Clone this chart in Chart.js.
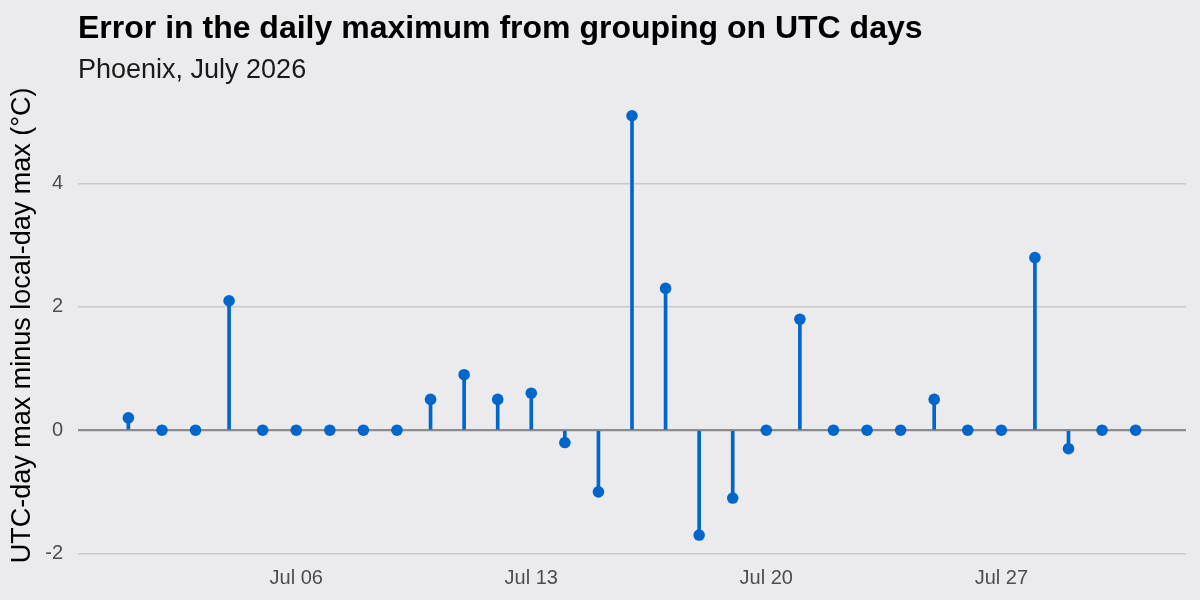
<!DOCTYPE html>
<html>
<head>
<meta charset="utf-8">
<script src="https://cdn.jsdelivr.net/npm/chart.js@4/dist/chart.umd.min.js"></script>
<style>
  html, body { margin: 0; padding: 0; background: #ebebee; }
  #wrap { width: 1200px; height: 600px; }
</style>
</head>
<body>
<div id="wrap"><canvas id="chart"></canvas></div>
<script>
// days of July 2026
const days = [1,2,3,4,5,6,7,8,9,10,11,12,13,14,15,16,17,18,19,20,21,22,23,24,25,26,27,28,29,30,31];
// UTC-day max minus local-day max (°C)
const errors = [0.2,0,0,2.1,0,0,0,0,0,0.5,0.9,0.5,0.6,-0.2,-1.0,5.1,2.3,-1.7,-1.1,0,1.8,0,0,0,0.5,0,0,2.8,-0.3,0,0];
const xTicks = [6,13,20,27];
const yTicks = [-2,0,2,4];

const blue = '#0066cc';
const font = "'Liberation Sans', Arial, sans-serif";

const stems = days.map((d, i) => ({x: d, y: [0, errors[i]]}));
const dots = days.map((d, i) => ({x: d, y: errors[i]}));

const ctx = document.querySelector('#chart');
new Chart(ctx, {
  type: 'bar',
  data: {
    datasets: [
      { type: 'bar', data: stems, backgroundColor: blue, borderWidth: 0, barThickness: 3, order: 2 },
      { type: 'scatter', data: dots, backgroundColor: blue, borderWidth: 0, pointRadius: 5.8, order: 1 }
    ]
  },
  options: {
    responsive: true,
    maintainAspectRatio: false,
    animation: false,
    layout: { padding: { left: 0, right: 14, top: 0, bottom: 0 } },
    plugins: {
      legend: { display: false },
      tooltip: { enabled: false },
      title: {
        display: true, align: 'start', fullSize: false,
        text: 'Error in the daily maximum from grouping on UTC days',
        color: '#000', font: { family: font, size: 32, weight: 'bold' },
        padding: { top: 10, bottom: 0 }
      },
      subtitle: {
        display: true, align: 'start', fullSize: false,
        text: 'Phoenix, July 2026',
        color: '#1a1a1a', font: { family: font, size: 27 },
        padding: { top: 6, bottom: 8 }
      }
    },
    scales: {
      x: {
        type: 'linear', min: -0.5, max: 32.5, offset: false,
        grid: { display: false, drawTicks: false },
        border: { display: false },
        afterBuildTicks: (s) => { s.ticks = xTicks.map(v => ({value: v})); },
        afterFit: (s) => { s.height = 44; },
        ticks: {
          padding: 10, color: '#4d4d4d', font: { family: font, size: 20 },
          maxRotation: 0, autoSkip: false,
          callback: (v) => 'Jul ' + String(v).padStart(2, '0')
        }
      },
      y: {
        min: -2.04, max: 5.44,
        afterBuildTicks: (s) => { s.ticks = yTicks.map(v => ({value: v})); },
        afterFit: (s) => { s.width = 78; },
        border: { display: false },
        grid: {
          drawTicks: false,
          color: (c) => c.tick && c.tick.value === 0 ? '#8c8c8c' : '#c9c9cc',
          lineWidth: (c) => c.tick && c.tick.value === 0 ? 2.2 : 1.6
        },
        ticks: { padding: 15, color: '#4d4d4d', font: { family: font, size: 20 } },
        title: {
          display: true, text: 'UTC-day max minus local-day max (°C)',
          color: '#000', font: { family: font, size: 27 }, padding: 6
        }
      }
    }
  }
});
</script>
</body>
</html>
